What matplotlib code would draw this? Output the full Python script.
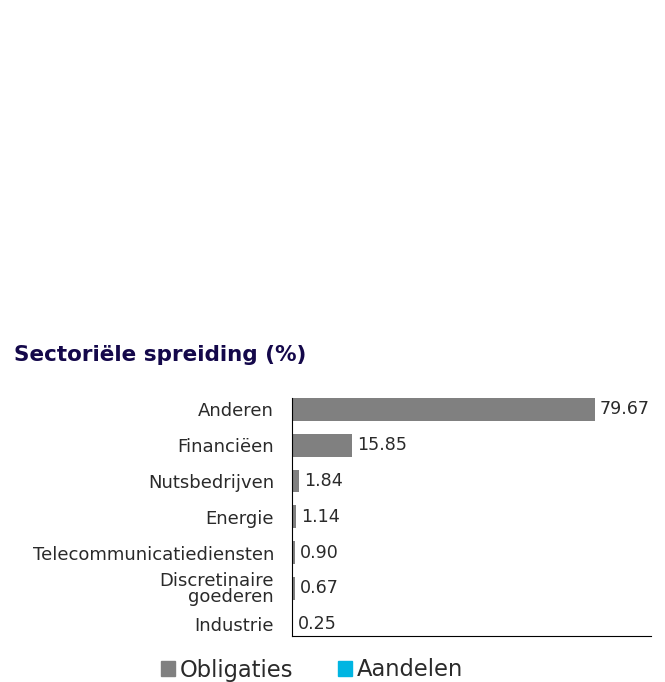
import matplotlib
matplotlib.use("Agg")
import matplotlib.pyplot as plt
from matplotlib.patches import Patch

plt.rcParams["font.family"] = ["DejaVu Sans"]

# data
sectors = [
    "Anderen",
    "Financiëen",
    "Nutsbedrijven",
    "Energie",
    "Telecommunicatiediensten",
    "Discretinaire\ngoederen",
    "Industrie",
]
obligaties = [79.67, 15.85, 1.84, 1.14, 0.90, 0.67, 0.25]
aandelen = [0, 0, 0, 0, 0, 0, 0]
series_names = ["Obligaties", "Aandelen"]
series_colors = ["#808080", "#00B5E2"]

fig = plt.figure(figsize=(6.65, 6.82), dpi=100)
ax = fig.add_axes([292 / 665, 1 - 636 / 682, (651 - 292) / 665, (636 - 398) / 682])

pos = list(range(len(sectors)))
ax.barh(pos, obligaties, height=0.64, color=series_colors[0])
ax.barh(pos, aandelen, left=obligaties, height=0.64, color=series_colors[1])

for p, v in zip(pos, obligaties):
    ax.annotate(f"{v:.2f}", (v, p), xytext=(3.5, 0), textcoords="offset points",
                va="center", ha="left", fontsize=12.6, color="#2a2a2a")

ax.set_xlim(0, 94.5)
ax.set_ylim(6.33, -0.32)
ax.set_yticks(pos)
ax.set_yticklabels(sectors, fontsize=13, color="#2a2a2a", linespacing=0.8)
ax.tick_params(axis="y", length=0, pad=13)
ax.set_xticks([])
for side in ["top", "right"]:
    ax.spines[side].set_visible(False)
ax.spines["left"].set_linewidth(0.8)
ax.spines["bottom"].set_linewidth(0.8)

fig.text(14 / 665, 1 - 355 / 682, "Sectoriële spreiding (%)", fontsize=15.5,
         fontweight="bold", color="#14084A", va="center", ha="left")

handles = [Patch(color=c, label=n) for c, n in zip(series_colors, series_names)]
fig.legend(handles=handles, loc="center", bbox_to_anchor=(312 / 665, 1 - 670 / 682),
           ncol=2, frameon=False, fontsize=16.3, handlelength=0.6, handleheight=0.6,
           handletextpad=0.2, columnspacing=2.0, labelcolor="#2a2a2a")

fig.savefig("out.png", dpi=100)
